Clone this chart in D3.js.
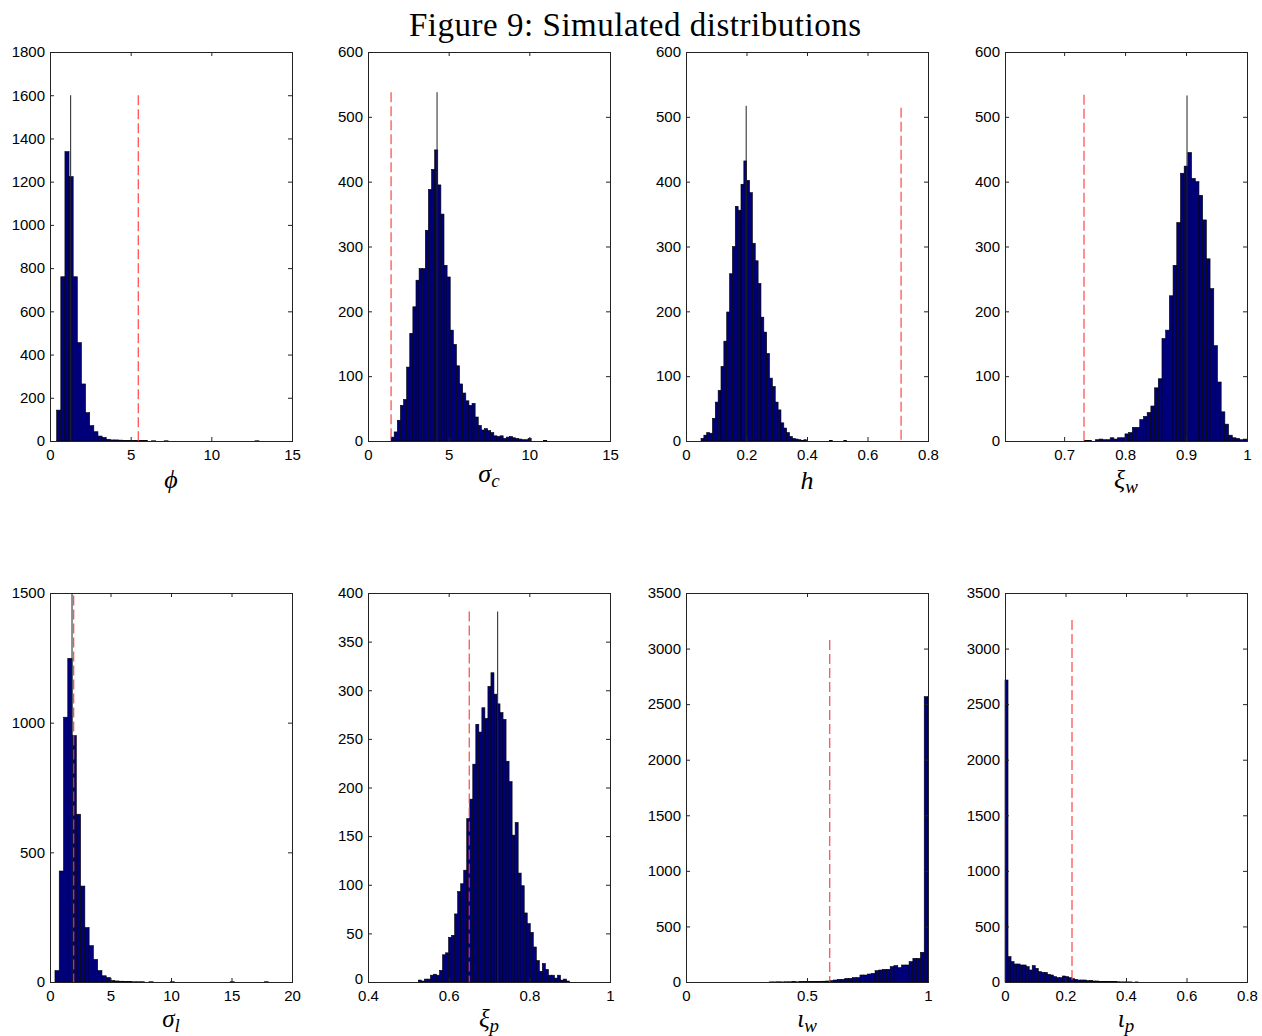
<!DOCTYPE html>
<html><head><meta charset="utf-8">
<script src="https://cdn.jsdelivr.net/npm/d3@7"></script>
<style>body{margin:0;background:#fff} svg{display:block}</style>
</head><body>
<svg id="chart" width="1262" height="1036"></svg>
<script>
// ---------------- DATA ----------------
const titleText = "Figure 9: Simulated distributions";

// phi
const phiCounts = [143,760,1339,1223,760,455,264,131,71,43,23,17,8,5,5,4,3,3,2,2,3,3,0,1,0,0,1,0,0,0,0,0,0,0,0,0,0,0,0,0,0,0,0,0,0,0,0,0,1];
const phiBin = [0.413, 0.256];          // first bin start, bin width
const phiXTicks = [0,5,10,15];
const phiYTicks = [0,200,400,600,800,1000,1200,1400,1600,1800];
const phiMark = [1.28, 1600];           // black line: value, height
const phiPrior = [5.47, 1600];          // red dashed: value, height

// sigma_c
const sigcCounts = [6,14,32,55,64,114,166,207,248,266,266,325,388,419,449,395,350,271,253,171,149,116,88,74,62,55,58,37,24,17,19,16,13,8,7,8,4,6,7,5,4,3,2,2,4,0,0,0,0,1];
const sigcBin = [1.43, 0.193];
const sigcXTicks = [0,5,10,15];
const sigcYTicks = [0,100,200,300,400,500,600];
const sigcMark = [4.28, 538];
const sigcPrior = [1.43, 538];

// h
const hCounts = [4,9,13,12,35,60,78,115,154,199,258,300,362,356,396,432,402,383,305,278,243,191,168,135,97,84,60,48,28,20,13,7,4,3,2,1,2,0,0,0,0,0,0,0,0,1,0,0,0,0,1];
const hBin = [0.0496, 0.00944];
const hXTicks = [0,0.2,0.4,0.6,0.8];
const hYTicks = [0,100,200,300,400,500,600];
const hMark = [0.199, 517];
const hPrior = [0.711, 514];

// xi_w
const xiwCounts = [0,0,1,1,0,2,3,2,2,5,3,5,5,11,13,21,21,33,38,44,54,82,96,158,171,224,271,337,413,424,445,405,400,379,341,281,235,147,91,45,26,9,5,4,2,3];
const xiwBin = [0.7209, 0.00607];
const xiwXTicks = [0.7,0.8,0.9,1];
const xiwYTicks = [0,100,200,300,400,500,600];
const xiwMark = [0.9016, 533];
const xiwPrior = [0.7326, 534];

// sigma_l
const siglCounts = [44,428,1021,1248,950,647,370,210,140,87,44,24,17,6,4,3,2,2,1,1,1,0,1,0,0,0,0,1,0,0,0,0,0,0,0,0,0,0,0,0,0,1,0,0,0,0,0,0,0,1];
const siglBin = [0.41, 0.353];
const siglXTicks = [0,5,10,15,20];
const siglYTicks = [0,500,1000,1500];
const siglMark = [1.82, 1500];
const siglPrior = [1.96, 1490];

// xi_p
const xipCounts = [2,1,3,3,7,8,7,12,28,30,46,48,70,93,101,115,168,188,224,265,257,282,271,304,318,296,286,277,270,227,206,151,164,112,99,71,60,51,36,22,11,19,13,7,7,4,7,2,3,1];
const xipBin = [0.5248, 0.0075];
const xipXTicks = [0.4,0.6,0.8,1];
const xipYTicks = [0,50,100,150,200,250,300,350,400];
const xipMark = [0.7215, 381];
const xipPrior = [0.651, 381];

// iota_w
const iwCounts = [0,0,0,0,0,0,0,0,0,0,0,0,0,0,0,0,0,0,0,0,0,0,1,1,2,1,2,2,3,2,3,3,4,4,5,6,7,9,12,18,24,24,33,33,39,39,63,63,72,78,102,108,114,114,138,147,129,153,153,183,213,213,267,2567];
const iwBin = [0, 0.015625];
const iwXTicks = [0,0.5,1];
const iwYTicks = [0,500,1000,1500,2000,2500,3000,3500];
const iwPrior = [0.594, 3078];

// iota_p
const ipCounts = [2717,228,183,162,162,153,153,138,108,147,123,93,87,87,69,63,48,39,39,54,48,39,30,24,18,18,18,12,15,9,9,6,6,6,3,3,3,2,1,1,1,1,0,1];
const ipBin = [0, 0.01];
const ipXTicks = [0,0.2,0.4,0.6,0.8];
const ipYTicks = [0,500,1000,1500,2000,2500,3000,3500];
const ipPrior = [0.2215, 3258];

// axis labels: [main symbol, subscript]
const axisLabels = [["ϕ",""],["σ","c"],["h",""],["ξ","w"],["σ","l"],["ξ","p"],["ι","w"],["ι","p"]];

// ---------------- LAYOUT ----------------
const svg = d3.select("#chart");
const W = 242, H = 389;
const lefts = [50, 368, 686, 1005];
const tops = [52, 593];
const labelBaselines = [488, 482, 489, 488, 1026.5, 1026.5, 1026.5, 1026.5];
const labelSizes = [26, 26, 26, 26, 25, 25, 25, 25];

const panels = [
  {counts: phiCounts, bin: phiBin, xd:[0,15], yd:[0,1800], xt: phiXTicks, yt: phiYTicks, mark: phiMark, prior: phiPrior},
  {counts: sigcCounts, bin: sigcBin, xd:[0,15], yd:[0,600], xt: sigcXTicks, yt: sigcYTicks, mark: sigcMark, prior: sigcPrior},
  {counts: hCounts, bin: hBin, xd:[0,0.8], yd:[0,600], xt: hXTicks, yt: hYTicks, mark: hMark, prior: hPrior},
  {counts: xiwCounts, bin: xiwBin, xd:[0.603,1], yd:[0,600], xt: xiwXTicks, yt: xiwYTicks, mark: xiwMark, prior: xiwPrior},
  {counts: siglCounts, bin: siglBin, xd:[0,20], yd:[0,1500], xt: siglXTicks, yt: siglYTicks, mark: siglMark, prior: siglPrior},
  {counts: xipCounts, bin: xipBin, xd:[0.4,1], yd:[0,400], xt: xipXTicks, yt: xipYTicks, mark: xipMark, prior: xipPrior, liftZero: true},
  {counts: iwCounts, bin: iwBin, xd:[0,1], yd:[0,3500], xt: iwXTicks, yt: iwYTicks, mark: null, prior: iwPrior},
  {counts: ipCounts, bin: ipBin, xd:[0,0.8], yd:[0,3500], xt: ipXTicks, yt: ipYTicks, mark: null, prior: ipPrior}
];

const tickFont = "'Liberation Sans', Arial, Helvetica, sans-serif";
const serifFont = "'Liberation Serif', 'Times New Roman', serif";

svg.append("text")
  .attr("x", 635).attr("y", 35.5)
  .attr("text-anchor", "middle")
  .attr("textLength", 452)
  .attr("lengthAdjust", "spacing")
  .style("font-family", serifFont)
  .style("font-size", "33px")
  .text(titleText);

const fmt = v => String(+v.toFixed(3));

panels.forEach((p, i) => {
  const left = lefts[i % 4], top = tops[Math.floor(i / 4)];
  const g = svg.append("g").attr("transform", `translate(${left},${top})`);
  const x = d3.scaleLinear().domain(p.xd).range([0, W]);
  const y = d3.scaleLinear().domain(p.yd).range([H, 0]);

  const bins = p.counts.map((c, k) => ({x0: p.bin[0] + k * p.bin[1], x1: p.bin[0] + (k + 1) * p.bin[1], c}))
    .filter(d => d.c > 0);

  g.selectAll("rect.bar").data(bins).join("rect")
    .attr("class", "bar")
    .attr("x", d => x(d.x0))
    .attr("width", d => x(d.x1) - x(d.x0))
    .attr("y", d => y(d.c))
    .attr("height", d => y(0) - y(d.c))
    .attr("fill", "#00007a")
    .attr("stroke", "#000")
    .attr("stroke-width", 0.6);

  if (p.mark) {
    g.append("line")
      .attr("x1", x(p.mark[0])).attr("x2", x(p.mark[0]))
      .attr("y1", y(0)).attr("y2", y(p.mark[1]))
      .attr("stroke", "#222").attr("stroke-width", 1);
  }
  g.append("line")
    .attr("x1", x(p.prior[0])).attr("x2", x(p.prior[0]))
    .attr("y1", y(p.prior[1])).attr("y2", y(0))
    .attr("stroke", "#ff3535").attr("stroke-width", 1.1)
    .attr("stroke-dasharray", "10,4");

  const styleAxis = sel => {
    sel.select(".domain").remove();
    sel.selectAll(".tick line").attr("stroke", "#222");
    sel.selectAll(".tick text").style("font-family", tickFont).style("font-size", "15px").attr("fill", "#000");
  };

  g.append("g").attr("transform", `translate(0,${H})`)
    .call(d3.axisBottom(x).tickValues(p.xt).tickSize(-4).tickPadding(8).tickFormat(fmt))
    .call(styleAxis);
  g.append("g")
    .call(d3.axisTop(x).tickValues(p.xt).tickSize(-4).tickFormat(""))
    .call(styleAxis);
  const yAx = g.append("g")
    .call(d3.axisLeft(y).tickValues(p.yt).tickSize(-4).tickPadding(5).tickFormat(fmt))
    .call(styleAxis);
  if (p.liftZero) {
    yAx.selectAll(".tick text").filter(d => d === p.yd[0]).attr("dy", "0.1em");
  }
  g.append("g").attr("transform", `translate(${W},0)`)
    .call(d3.axisRight(y).tickValues(p.yt).tickSize(-4).tickFormat(""))
    .call(styleAxis);

  g.append("rect")
    .attr("x", 0.5).attr("y", 0.5).attr("width", W).attr("height", H)
    .attr("fill", "none").attr("stroke", "#222").attr("stroke-width", 1);

  const lab = svg.append("text")
    .attr("x", left + W / 2)
    .attr("y", labelBaselines[i])
    .attr("text-anchor", "middle")
    .style("font-family", serifFont)
    .style("font-style", "italic")
    .style("font-size", labelSizes[i] + "px");
  lab.append("tspan").text(axisLabels[i][0]);
  if (axisLabels[i][1]) {
    lab.append("tspan").attr("dy", 5).style("font-size", "19px").text(axisLabels[i][1]);
  }
});
</script>
</body></html>
